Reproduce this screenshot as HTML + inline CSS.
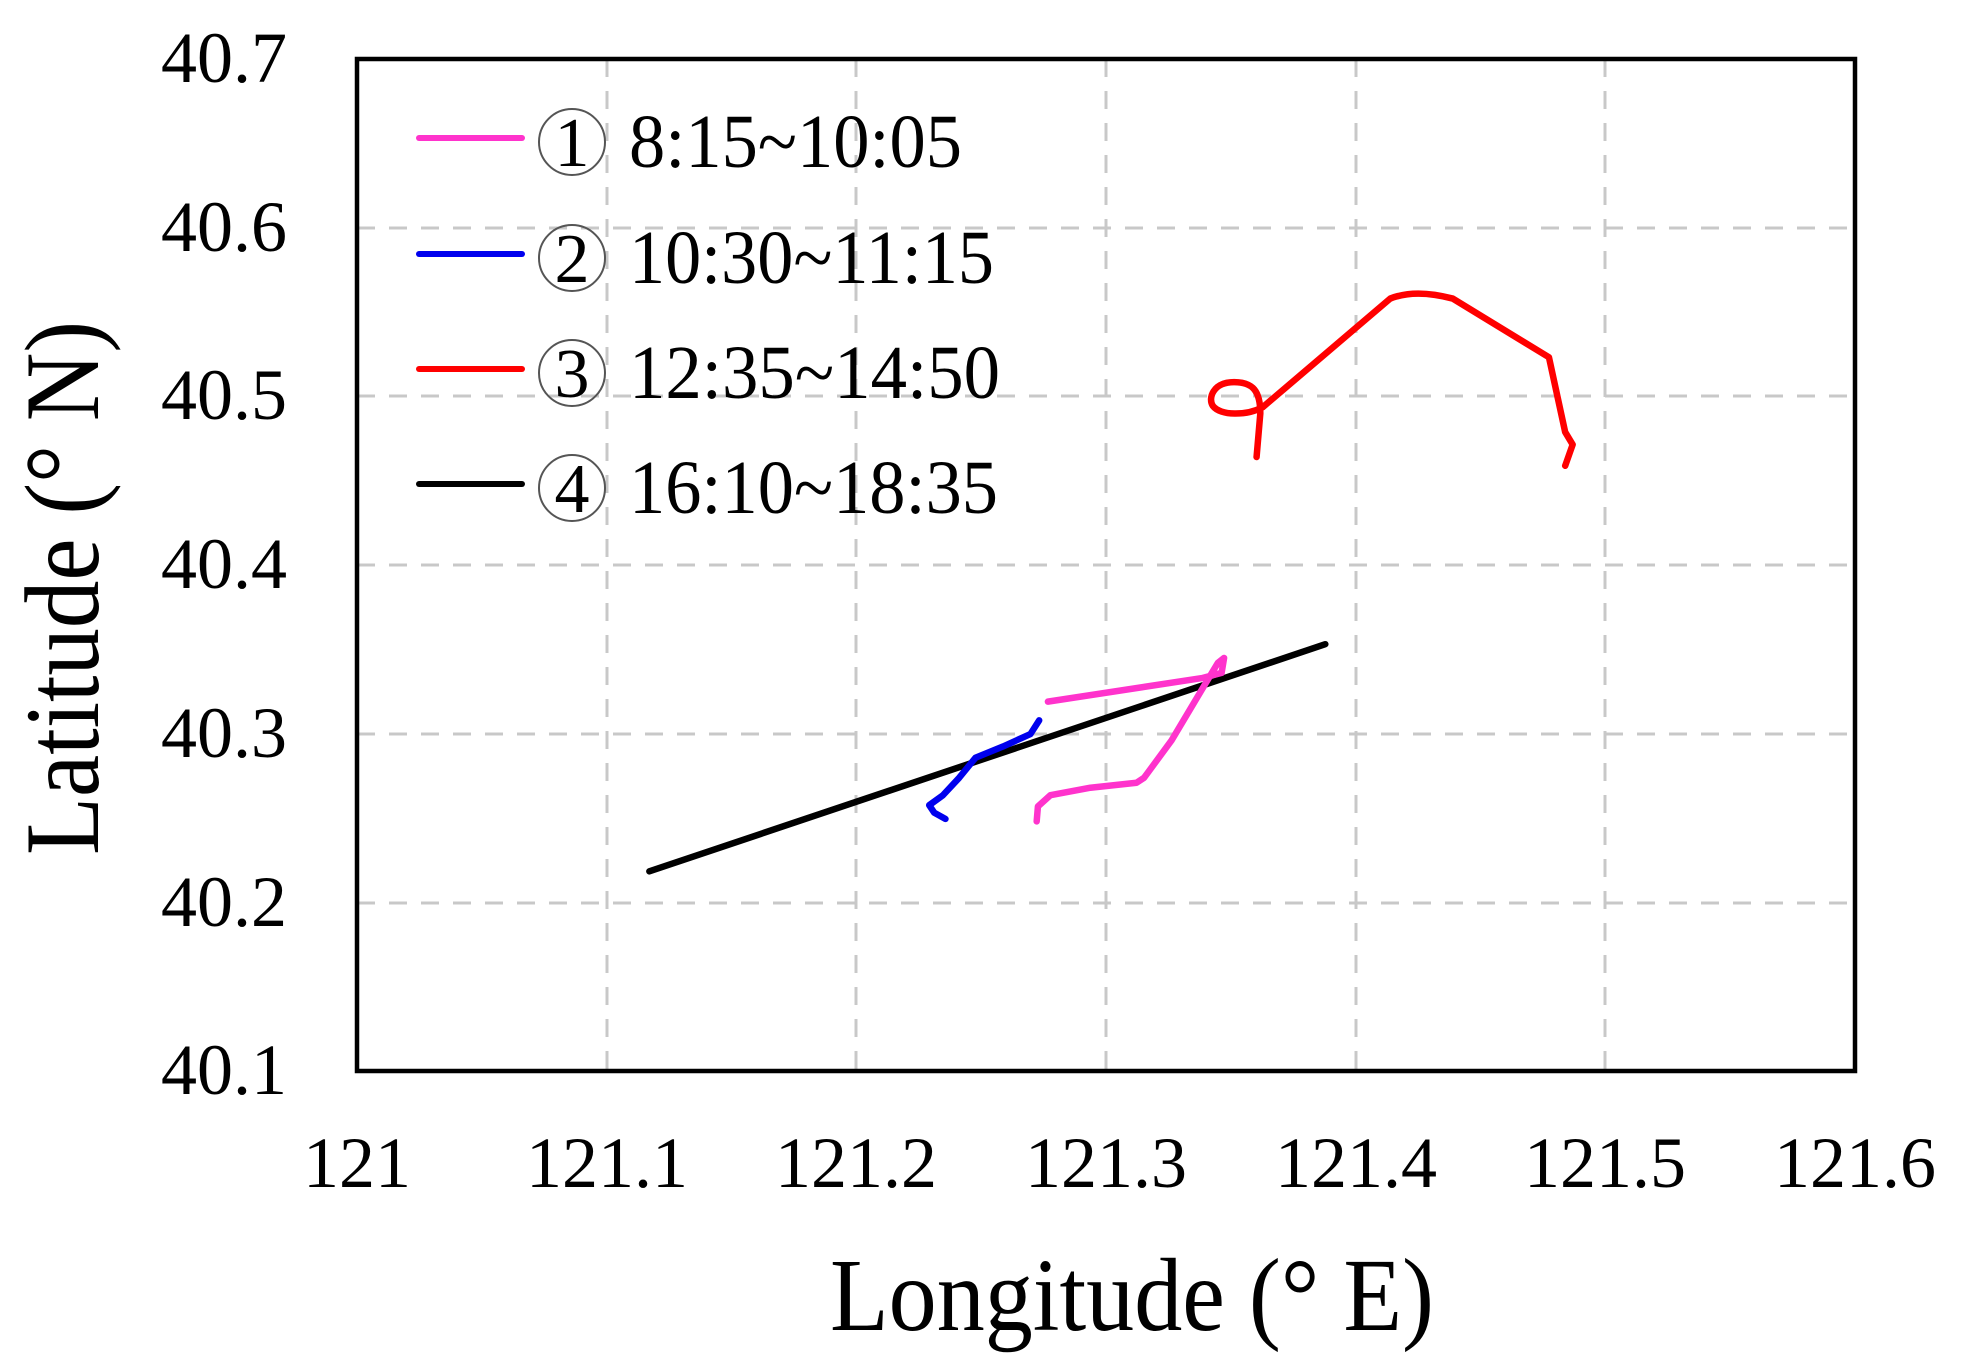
<!DOCTYPE html>
<html><head><meta charset="utf-8"><style>
html,body{margin:0;padding:0;background:#fff;}
svg{display:block;}
text{font-family:"Liberation Serif",serif;fill:#000;}
</style></head><body>
<svg width="1963" height="1367" viewBox="0 0 1963 1367" xmlns="http://www.w3.org/2000/svg">
<g stroke="#c8c8c8" stroke-width="3" stroke-dasharray="18,14">
<line x1="607" y1="59" x2="607" y2="1071"/>
<line x1="856" y1="59" x2="856" y2="1071"/>
<line x1="1106" y1="59" x2="1106" y2="1071"/>
<line x1="1356" y1="59" x2="1356" y2="1071"/>
<line x1="1605" y1="59" x2="1605" y2="1071"/>
<line x1="357" y1="228" x2="1855" y2="228"/>
<line x1="357" y1="396" x2="1855" y2="396"/>
<line x1="357" y1="565" x2="1855" y2="565"/>
<line x1="357" y1="734" x2="1855" y2="734"/>
<line x1="357" y1="903" x2="1855" y2="903"/>
</g>
<rect x="357" y="59" width="1498" height="1012" fill="none" stroke="#000" stroke-width="4.5"/>
<g font-size="72" text-anchor="middle">
<text x="357" y="1187">121</text>
<text x="607" y="1187">121.1</text>
<text x="856" y="1187">121.2</text>
<text x="1106" y="1187">121.3</text>
<text x="1356" y="1187">121.4</text>
<text x="1605" y="1187">121.5</text>
<text x="1855" y="1187">121.6</text>
</g>
<g font-size="72" text-anchor="end">
<text x="287" y="82">40.7</text>
<text x="287" y="251">40.6</text>
<text x="287" y="419">40.5</text>
<text x="287" y="588">40.4</text>
<text x="287" y="757">40.3</text>
<text x="287" y="926">40.2</text>
<text x="287" y="1094">40.1</text>
</g>
<text x="830" y="1330" font-size="104" textLength="604" lengthAdjust="spacingAndGlyphs">Longitude (° E)</text>
<text transform="translate(98,855) rotate(-90)" font-size="106" textLength="534" lengthAdjust="spacingAndGlyphs">Latitude (° N)</text>
<g stroke-width="6" stroke-linecap="round">
<line x1="419" y1="138" x2="522" y2="138" stroke="#ff33cc"/>
<line x1="419" y1="254" x2="522" y2="254" stroke="#0000ee"/>
<line x1="419" y1="369" x2="522" y2="369" stroke="#ff0000"/>
<line x1="419" y1="484" x2="522" y2="484" stroke="#000"/>
</g>
<g fill="none" stroke="#555" stroke-width="2">
<circle cx="572" cy="142" r="33"/><circle cx="572" cy="258" r="33"/>
<circle cx="572" cy="373" r="33"/><circle cx="572" cy="488" r="33"/>
</g>
<g font-size="70" text-anchor="middle">
<text x="572" y="166">1</text><text x="572" y="282">2</text>
<text x="572" y="397">3</text><text x="572" y="512">4</text>
</g>
<g font-size="76">
<text x="629" y="167" textLength="333" lengthAdjust="spacingAndGlyphs">8:15~10:05</text>
<text x="629" y="283" textLength="365" lengthAdjust="spacingAndGlyphs">10:30~11:15</text>
<text x="629" y="398" textLength="371" lengthAdjust="spacingAndGlyphs">12:35~14:50</text>
<text x="629" y="513" textLength="369" lengthAdjust="spacingAndGlyphs">16:10~18:35</text>
</g>
<g transform="translate(357,59) scale(1.2494,1.2478) translate(-283,-46)" fill="none" stroke-linecap="round" stroke-linejoin="round">
<polyline vector-effect="non-scaling-stroke" stroke-width="6.5" stroke="#000" points="517,697 1058,515"/>
<polyline vector-effect="non-scaling-stroke" stroke-width="6.5" stroke="#0000ee" points="829,576 822,587 800,597 778,606 765,622 752,636 741,644 745,650 754,655"/>
<polyline vector-effect="non-scaling-stroke" stroke-width="6.5" stroke="#ff33cc" points="836,561 960,542 975,538 977,526 972,530 960,550 935,592 913,622 907,626 870,630 838,636 828,645 827,657"/>
<path vector-effect="non-scaling-stroke" stroke-width="6.5" stroke="#ff0000" d="M1003,365 L1006,330 C1006,312 1000,305 985,305 C968,305 964,318 968,324 C974,332 995,332 1008,325 L1110,238 Q1130,230 1160,238 L1237,285 L1250,345 L1256,355 L1250,372"/>
</g>
</svg>
</body></html>
